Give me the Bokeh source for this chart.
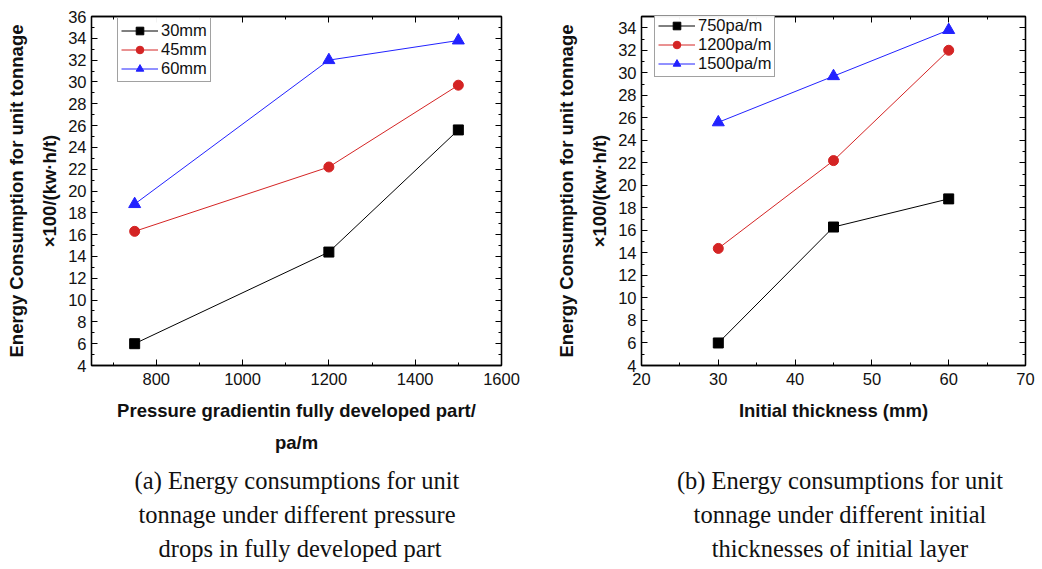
from bokeh.plotting import figure
from bokeh.layouts import row, column
from bokeh.models import LinearAxis, FixedTicker, Range1d, Div, Legend
from bokeh.embed import file_html
from bokeh.resources import INLINE

# ---- Data: panel (a) ----
pressure = [750, 1200, 1500]
a_labels = ["30mm", "45mm", "60mm"]
a_30mm = [6.0, 14.4, 25.6]
a_45mm = [16.3, 22.2, 29.7]
a_60mm = [18.8, 32.0, 33.8]

# ---- Data: panel (b) ----
thickness = [30, 45, 60]
b_labels = ["750pa/m", "1200pa/m", "1500pa/m"]
b_750 = [6.0, 16.3, 18.8]
b_1200 = [14.4, 22.2, 32.0]
b_1500 = [25.6, 29.7, 33.8]

a_xticks = [800, 1000, 1200, 1400, 1600]
a_xminor = [700, 900, 1100, 1300, 1500]
a_yticks = list(range(4, 37, 2))
a_yminor = list(range(5, 36, 2))
b_xticks = [20, 30, 40, 50, 60, 70]
b_xminor = [25, 35, 45, 55, 65]
b_yticks = list(range(4, 35, 2))
b_yminor = list(range(5, 36, 2))

ylabel = "Energy Consumption for unit tonnage\n\u00d7100/(kw\u00b7h/t)"
xlabel_a = "Pressure gradientin fully developed part/\npa/m"
xlabel_b = "Initial thickness (mm)"

caption_a = ["(a) Energy consumptions for unit",
             "tonnage under different pressure",
             "&nbsp;drops in fully developed part"]
caption_b = ["(b) Energy consumptions for unit",
             "tonnage under different initial",
             "thicknesses of initial layer"]

COLORS = ["#000000", "#d42424", "#2222ff"]
MARKERS = ["square", "circle", "triangle"]
SIZES = [10, 10, 12]
SANS = "Liberation Sans"


def style_axis(ax, ticks, minor, labels=True):
    ax.ticker = FixedTicker(ticks=ticks, minor_ticks=minor)
    ax.major_tick_in = 6
    ax.major_tick_out = 0
    ax.minor_tick_in = 3
    ax.minor_tick_out = 0
    ax.axis_line_color = "black"
    ax.axis_line_width = 1.3
    ax.major_tick_line_color = "black"
    ax.minor_tick_line_color = "black"
    ax.major_label_text_font = SANS
    ax.major_label_text_font_size = "16.5px"
    ax.major_label_text_color = "#111111"
    ax.axis_label_text_font = SANS
    ax.axis_label_text_font_size = "18.5px"
    ax.axis_label_text_font_style = "bold"
    ax.axis_label_text_color = "#111111"
    ax.axis_label_text_line_height = 1.57
    if not labels:
        ax.major_label_overrides = {t: "" for t in ticks}


def make_panel(x, series, labels, xr, yr, xt, xm, yt, ym, xlabel,
               width, height, borders, legend_loc):
    left, right, top, bottom = borders
    p = figure(width=width, height=height, output_backend="svg",
               toolbar_location=None, x_range=Range1d(*xr), y_range=Range1d(*yr),
               min_border_left=left, min_border_right=right,
               min_border_top=top, min_border_bottom=bottom)
    p.xgrid.visible = False
    p.ygrid.visible = False
    p.outline_line_color = "black"
    p.outline_line_width = 1.3
    p.background_fill_color = "white"
    p.border_fill_color = "white"

    style_axis(p.xaxis[0], xt, xm)
    style_axis(p.yaxis[0], yt, ym)
    p.xaxis[0].axis_label = xlabel
    p.yaxis[0].axis_label = ylabel
    p.xaxis[0].major_label_standoff = 7
    p.xaxis[0].axis_label_standoff = 12
    p.yaxis[0].major_label_standoff = 5
    p.yaxis[0].axis_label_standoff = 5

    ra = LinearAxis()
    style_axis(ra, yt, ym, labels=False)
    p.add_layout(ra, "right")
    ta = LinearAxis()
    style_axis(ta, xt, xm, labels=False)
    p.add_layout(ta, "above")

    items = []
    for ys, lab, c, m, s in zip(series, labels, COLORS, MARKERS, SIZES):
        l = p.line(x, ys, line_color=c, line_width=1)
        sc = p.scatter(x, ys, marker=m, size=s, fill_color=c, line_color=c)
        items.append((lab, [l, sc]))

    leg = Legend(items=items, location=legend_loc)
    leg.label_text_font = SANS
    leg.label_text_font_size = "16.5px"
    leg.label_text_color = "#111111"
    leg.glyph_width = 37
    leg.glyph_height = 19
    leg.label_height = 19
    leg.spacing = 0
    leg.padding = 3
    leg.margin = 0
    leg.label_standoff = 3
    leg.border_line_color = "#444444"
    leg.border_line_width = 1.3
    leg.background_fill_color = "white"
    p.add_layout(leg, "center")
    return p


pa = make_panel(pressure, [a_30mm, a_45mm, a_60mm], a_labels,
                (650, 1600), (4, 36), a_xticks, a_xminor, a_yticks, a_yminor,
                xlabel_a, 520, 462, (91, 19, 16, 97), (26, 283))
pb = make_panel(thickness, [b_750, b_1200, b_1500], b_labels,
                (20, 70), (4, 35), b_xticks, b_xminor, b_yticks, b_yminor,
                xlabel_b, 522, 462, (121, 17, 12, 95), (13, 288))


def block(lines, left, width):
    return (f'<div style="position:absolute;left:{left}px;top:2px;width:{width}px;'
            f'text-align:center;">' + "<br>".join(lines) + "</div>")


html = ('<div style="position:relative;width:1042px;height:107px;'
        "font-family:'Liberation Serif','Times New Roman',serif;font-size:24.5px;"
        'line-height:34px;color:#111111;">'
        + block(caption_a, 97, 400) + block(caption_b, 640, 400) + "</div>")
captions = Div(text=html, width=1042, height=107, margin=0)

layout = column(row(pa, pb, spacing=0), captions, spacing=0)
layout.styles = {"background-color": "white"}

open("out.html", "w").write(file_html(layout, INLINE))
